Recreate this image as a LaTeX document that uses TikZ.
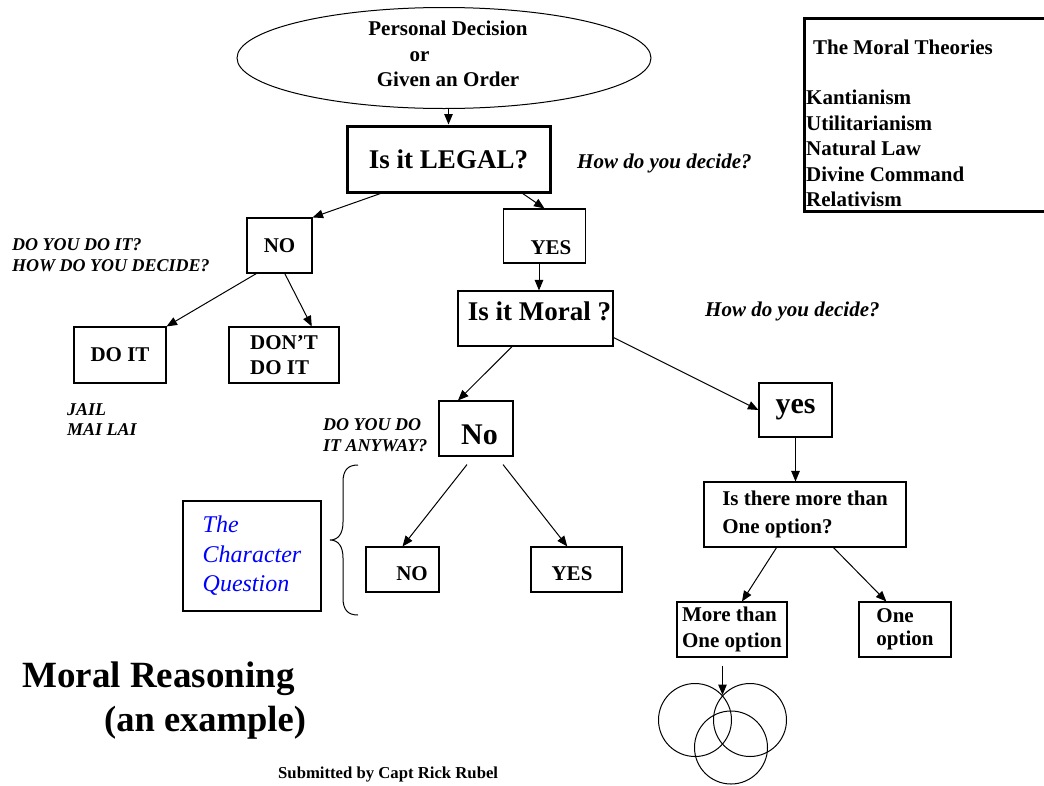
\documentclass[tikz,border=0pt]{standalone}
\usepackage{fontspec}
\setmainfont{Liberation Serif}
\usetikzlibrary{arrows.meta,shapes.geometric,calc}
\definecolor{qblue}{RGB}{0,0,255}
\begin{document}
\begin{tikzpicture}[x=1pt,y=-1pt,
  box/.style={draw, rectangle, line width=1.1pt, inner sep=0pt},
  heavybox/.style={draw, rectangle, line width=3pt, inner sep=0pt},
  arr/.style={draw, line width=1pt, -{Triangle[length=10.5pt,width=8.5pt]}},
  txt/.style={inner sep=0pt},
  fb21/.style={font=\fontsize{21}{25.5}\selectfont\bfseries},
  fb27/.style={font=\fontsize{27}{32}\selectfont\bfseries},
  fb30/.style={font=\fontsize{30}{36}\selectfont\bfseries},
  fbi21/.style={font=\fontsize{21}{25}\selectfont\bfseries\itshape},
  fbi18/.style={font=\fontsize{18}{21}\selectfont\bfseries\itshape},
]
\useasboundingbox (0,0) rectangle (1044,785);
\fill[white] (0,0) rectangle (1044,785);

% start ellipse
\node[ellipse, draw, line width=1pt, minimum width=414pt, minimum height=101pt, inner sep=0pt] (start) at (444,58) {};
\node[fb21, align=center, txt] (startT) at (448,54) {Personal Decision\\\hspace*{-57pt}or\\Given an Order};

% legal
\node[heavybox, minimum width=203pt, minimum height=66pt, fb27] (legal) at (448.5,159) {Is it LEGAL?};
\draw[arr] (legal.north |- start.south) -- (legal.north);
\node[fbi21, anchor=west, txt] (q1) at (577,163) {How do you decide?};

% NO branch (top)
\node[box, minimum width=65pt, minimum height=55pt, fb21] (noA) at (279.5,245.5) {NO};
\draw[arr] ($(legal.south west)!0.17!(legal.south east)$) -- (noA.north east);
\node[fbi18, align=left, anchor=west, txt] (ask1) at (12,255.5) {DO YOU DO IT?\\HOW DO YOU DECIDE?};

\node[box, minimum width=92pt, minimum height=56pt, fb21] (doit) at (120,355) {DO IT};
\node[box, minimum width=110pt, minimum height=56pt, align=left, fb21] (dont) at (284,355) {DON’T\\DO IT};
\draw[arr] ($(noA.south west)!0.15!(noA.south east)$) -- (doit.north east);
\draw[arr] ($(noA.south west)!0.58!(noA.south east)$) -- ($(dont.north west)!0.75!(dont.north east)$);
\node[align=left, anchor=west, txt, font=\fontsize{18}{20}\selectfont\bfseries\itshape] (jail) at (67,420) {JAIL\\MAI LAI};

% YES branch
\node[box, minimum width=82pt, minimum height=54pt] (yesA) at (544.5,236) {};
\node[fb21, txt] (yesAT) at (551,248) {YES};
\draw[arr] ($(legal.south west)!0.86!(legal.south east)$) -- (yesA.north);

\node[box, minimum width=155pt, minimum height=55pt] (moral) at (535.5,318.5) {};
\node[fb27, txt] (moralT) at (539.5,311) {Is it Moral ?};
\draw[arr] ([xshift=-5.5pt]yesA.south) -- ([xshift=-5.5pt]yesA.south |- moral.north);
\node[fbi21, anchor=west, txt] (q2) at (705,311) {How do you decide?};

% No (moral)
\node[box, minimum width=74pt, minimum height=55pt] (noB) at (476,428.5) {};
\node[fb30, txt] (noBT) at (479.5,435) {No};
\draw[arr] ($(moral.south west)!0.35!(moral.south east)$) -- ($(noB.north west)!0.26!(noB.north east)$);
\node[fbi18, align=left, anchor=west, txt] (ask2) at (323,435.5) {DO YOU DO\\IT ANYWAY?};

\node[box, minimum width=73pt, minimum height=45pt] (noC) at (402.5,569.5) {};
\node[fb21, txt] (noCT) at (412,574) {NO};
\node[box, minimum width=91pt, minimum height=45pt] (yesC) at (576.5,569.5) {};
\node[fb21, txt] (yesCT) at (572,574) {YES};
\draw[arr] ($(noB.south)+(-9,8)$) -- (noC.north);
\draw[arr] ($(noB.south)+(27,8)$) -- ($(yesC.north west)!0.4!(yesC.north east)$);

% brace
\draw[line width=1pt] (358,465) .. controls (348,465) and (343,470) .. (343,482) -- (343,522) .. controls (343,534) and (338,540) .. (330,540) .. controls (338,540) and (343,546) .. (343,558) -- (343,598) .. controls (343,610) and (348,615) .. (358,615);

\node[box, minimum width=138pt, minimum height=110pt, align=left, text=qblue, font=\fontsize{24}{29.5}\selectfont\itshape] (charq) at (252,556) {The\\Character\\Question};

% yes (moral)
\node[box, minimum width=73pt, minimum height=54pt, fb30] (yesB) at (795.5,410) {yes};
\draw[arr] ($(moral.north east)!0.84!(moral.south east)$) -- (yesB.west);

\node[box, minimum width=202pt, minimum height=65pt, align=left, font=\fontsize{21}{28}\selectfont\bfseries] (opt) at (805,514.5) {Is there more than\\One option?};
\draw[arr] (yesB.south) -- (yesB.south |- opt.north);

\node[box, minimum width=110pt, minimum height=55pt, align=left, font=\fontsize{21}{26}\selectfont\bfseries] (more) at (732,629.5) {More than\\One option};
\node[box, minimum width=92pt, minimum height=55pt, align=left, font=\fontsize{21}{23}\selectfont\bfseries] (one) at (905,629.5) {One\\option};
\draw[arr] ($(opt.south west)!0.36!(opt.south east)$) -- ($(more.north west)!0.59!(more.north east)$);
\draw[arr] ($(opt.south west)!0.64!(opt.south east)$) -- ($(one.north west)!0.30!(one.north east)$);

% circles
\node[circle, draw, line width=1pt, minimum size=73pt, inner sep=0pt] (c1) at (695,720) {};
\node[circle, draw, line width=1pt, minimum size=73pt, inner sep=0pt] (c2) at (750,720) {};
\node[circle, draw, line width=1pt, minimum size=73pt, inner sep=0pt] (c3) at (731,747.5) {};
\coordinate (vtop) at (722.5,695);
\draw[arr] ($(vtop |- more.south)+(0,8)$) -- (vtop);

% theories
\node[heavybox, anchor=north west, minimum width=260pt, minimum height=193pt] (theo) at (803,17) {};
\node[fb21, anchor=west, txt] (theoH) at (813,47) {The Moral Theories};
\node[align=left, anchor=west, txt, font=\fontsize{21}{25.5}\selectfont\bfseries] (theoL) at (806,148.5) {Kantianism\\Utilitarianism\\Natural Law\\Divine Command\\Relativism};

% title
\node[anchor=base west, txt, font=\fontsize{37}{44}\selectfont\bfseries] (title) at (22,687) {Moral Reasoning};
\node[anchor=base west, txt, font=\fontsize{36.5}{44}\selectfont\bfseries] (title2) at (104,731) {(an example)};
\node[anchor=base west, txt, font=\fontsize{16.7}{20}\selectfont\bfseries] (credit) at (278,778) {Submitted by Capt Rick Rubel};
\end{tikzpicture}
\end{document}
